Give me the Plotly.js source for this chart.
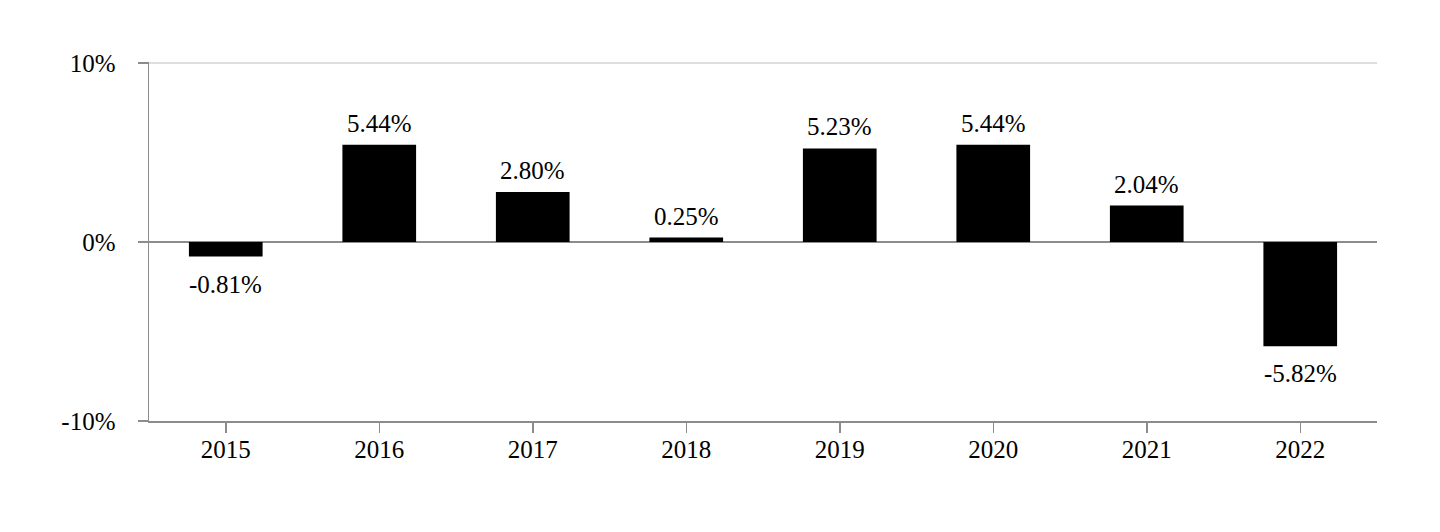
<!DOCTYPE html>
<html>
<head>
<meta charset="utf-8">
<script src="https://cdn.plot.ly/plotly-3.0.1.min.js"></script>
<style>
html,body{margin:0;padding:0;background:#fff;}
#chart{width:1440px;height:532px;}
</style>
</head>
<body>
<div id="chart"></div>
<script>
const years = ['2015','2016','2017','2018','2019','2020','2021','2022'];
const returns = [-0.81, 5.44, 2.80, 0.25, 5.23, 5.44, 2.04, -5.82];
const yTickVals = [-10, 0, 10];
const yTickText = ['-10%', '0%', '10%'];

const FONT = '"Liberation Serif", "Times New Roman", serif';
const FS = 25;

const annotations = returns.map((v, i) => ({
  x: i,
  y: v,
  xref: 'x',
  yref: 'y',
  text: v.toFixed(2) + '%',
  showarrow: false,
  xanchor: 'center',
  yanchor: v >= 0 ? 'bottom' : 'top',
  yshift: v >= 0 ? 6 : -12,
  font: {family: FONT, size: FS, color: '#000'}
}));

const data = [{
  type: 'bar',
  x: years,
  y: returns,
  marker: {color: '#000000', line: {width: 0}},
  hoverinfo: 'skip'
}];

const layout = {
  width: 1440,
  height: 532,
  margin: {l: 149, r: 63, t: 62, b: 111, pad: 0},
  paper_bgcolor: '#ffffff',
  plot_bgcolor: '#ffffff',
  showlegend: false,
  bargap: 0.52,
  font: {family: FONT, size: FS, color: '#000'},
  xaxis: {
    type: 'category',
    range: [-0.5, years.length - 0.5],
    autorange: false,
    showline: true,
    linecolor: '#8c8c8c',
    linewidth: 1.5,
    ticks: 'outside',
    ticklen: 10,
    tickwidth: 1.5,
    tickcolor: '#8c8c8c',
    showgrid: false,
    zeroline: false,
    tickfont: {family: FONT, size: FS, color: '#000'},
    ticklabelstandoff: -5
  },
  yaxis: {
    range: [-10, 10.06],
    autorange: false,
    tickvals: yTickVals,
    ticktext: yTickText,
    showline: true,
    linecolor: '#8c8c8c',
    linewidth: 1.5,
    ticks: 'outside',
    ticklen: 10,
    tickwidth: 1.5,
    tickcolor: '#8c8c8c',
    showgrid: true,
    gridcolor: '#dedede',
    gridwidth: 1.5,
    zeroline: true,
    zerolinecolor: '#8c8c8c',
    zerolinewidth: 1.5,
    tickfont: {family: FONT, size: FS, color: '#000'},
    ticklabelstandoff: 17
  },
  annotations: annotations
};

Plotly.newPlot('chart', data, layout, {displayModeBar: false, staticPlot: true});
</script>
</body>
</html>
